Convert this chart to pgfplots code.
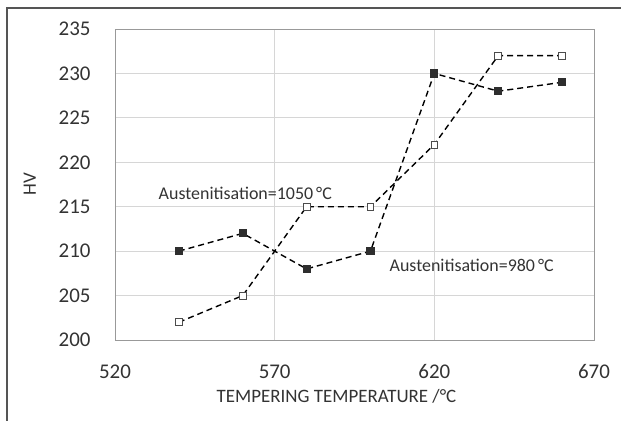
\documentclass[border=0pt]{standalone}
\usepackage{fontspec}
\setmainfont{Carlito}
\usepackage{pgfplots}
\pgfplotsset{compat=1.18}
\definecolor{txt}{HTML}{333333}
\definecolor{gridc}{HTML}{D6D6D6}
\definecolor{framec}{HTML}{555555}
\definecolor{fillc}{HTML}{2E2E2E}
\begin{document}
\begin{tikzpicture}
\path[use as bounding box] (-115bp,-81bp) rectangle (506bp,340bp);
\draw[framec,line width=1.4bp] (-108bp,-81bp) -- (-108bp,332bp) -- (506bp,332bp);
\begin{axis}[
  scale only axis, width=479bp, height=311bp,
  xmin=520, xmax=670, ymin=200, ymax=235,
  xtick={520,570,620,670}, ytick={200,205,...,235},
  major tick length=0pt,
  grid=major, grid style={gridc, line width=0.9bp},
  axis line style={gray!80, line width=0.9bp},
  tick label style={font=\fontsize{21}{21}\selectfont, text=txt},
  /pgf/number format/assume math mode=true,
  /pgf/number format/.cd, 1000 sep={}, /pgfplots/.cd,
  xticklabel style={yshift=-21bp},
  yticklabel style={xshift=-21bp},
  xlabel={TEMPERING TEMPERATURE /°C},
  ylabel={HV},
  label style={font=\fontsize{19}{19}\selectfont, text=txt},
  xlabel style={yshift=-4bp, xshift=-18bp},
  ylabel style={yshift=16bp},
  clip=false,
]
\addplot[black, line width=1.4bp, dash pattern=on 6bp off 4bp,
  mark=square*, mark size=3.4bp, mark options={solid, fill=fillc, draw=fillc}]
  coordinates {(540,210) (560,212) (580,208) (600,210) (620,230) (640,228) (660,229)};
\addplot[black, line width=1.4bp, dash pattern=on 6bp off 4bp,
  mark=square*, mark size=3.4bp, mark options={solid, fill=white, draw=black!70, line width=0.8bp}]
  coordinates {(540,202) (560,205) (580,215) (600,215) (620,222) (640,232) (660,232)};
\node[font=\fontsize{18}{18}\selectfont, text=txt] at (axis cs:560.8,216.5) {Austenitisation=1050\,°C};
\node[font=\fontsize{18}{18}\selectfont, text=txt] at (axis cs:631.7,208.4) {Austenitisation=980\,°C};
\end{axis}
\end{tikzpicture}
\end{document}
